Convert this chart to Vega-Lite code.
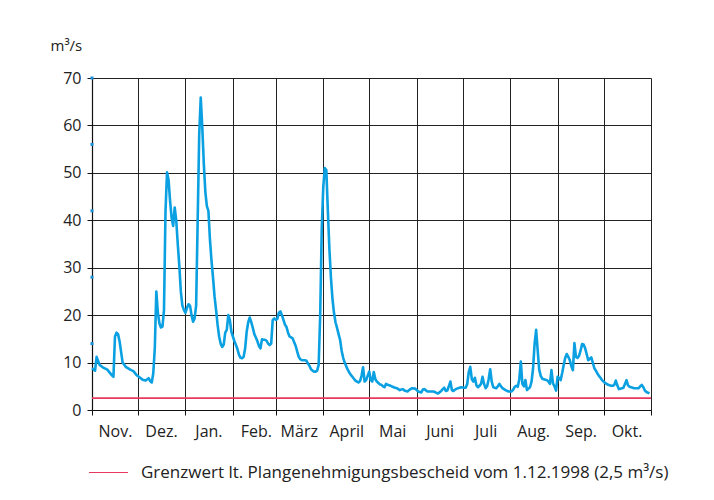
{
  "$schema": "https://vega.github.io/schema/vega-lite/v6.json",
  "autosize": {"type": "none"},
  "padding": {"left": 92, "top": 78, "right": 63, "bottom": 90},
  "width": 559,
  "height": 332,
  "background": "white",
  "config": {
    "font": "Open Sans",
    "view": {"stroke": null},
    "axis": {"labelFont": "Open Sans", "labelFontSize": 16, "labelColor": "#222", "titleFont": "Open Sans", "titleColor": "#222"}
  },
  "datasets": {
    "flow": [
      {"date": "1998-11-01", "q": 8.8}, {"date": "1998-11-03", "q": 8.3}, {"date": "1998-11-04", "q": 11.2}, {"date": "1998-11-06", "q": 9.5},
      {"date": "1998-11-08", "q": 9.0}, {"date": "1998-11-11", "q": 8.5}, {"date": "1998-11-14", "q": 7.3}, {"date": "1998-11-15", "q": 7.0},
      {"date": "1998-11-16", "q": 15.5}, {"date": "1998-11-17", "q": 16.3}, {"date": "1998-11-18", "q": 16.0}, {"date": "1998-11-19", "q": 14.5},
      {"date": "1998-11-21", "q": 10.0}, {"date": "1998-11-23", "q": 9.1}, {"date": "1998-11-26", "q": 8.5}, {"date": "1998-11-28", "q": 8.2},
      {"date": "1998-11-30", "q": 7.4}, {"date": "1998-12-02", "q": 6.9}, {"date": "1998-12-04", "q": 6.4}, {"date": "1998-12-06", "q": 6.2},
      {"date": "1998-12-08", "q": 6.7}, {"date": "1998-12-09", "q": 6.1}, {"date": "1998-12-10", "q": 5.8}, {"date": "1998-12-11", "q": 7.7},
      {"date": "1998-12-12", "q": 13.0}, {"date": "1998-12-13", "q": 25.0}, {"date": "1998-12-14", "q": 20.5}, {"date": "1998-12-15", "q": 18.3},
      {"date": "1998-12-16", "q": 17.4}, {"date": "1998-12-17", "q": 17.6}, {"date": "1998-12-18", "q": 21.0}, {"date": "1998-12-19", "q": 42.0},
      {"date": "1998-12-20", "q": 50.1}, {"date": "1998-12-21", "q": 48.5}, {"date": "1998-12-22", "q": 44.0}, {"date": "1998-12-23", "q": 40.5},
      {"date": "1998-12-24", "q": 38.8}, {"date": "1998-12-25", "q": 42.7}, {"date": "1998-12-26", "q": 40.0}, {"date": "1998-12-27", "q": 35.0},
      {"date": "1998-12-28", "q": 30.5}, {"date": "1998-12-29", "q": 25.0}, {"date": "1998-12-30", "q": 22.0}, {"date": "1998-12-31", "q": 21.1},
      {"date": "1999-01-01", "q": 20.5}, {"date": "1999-01-02", "q": 21.5}, {"date": "1999-01-03", "q": 22.3}, {"date": "1999-01-04", "q": 22.0},
      {"date": "1999-01-05", "q": 20.0}, {"date": "1999-01-06", "q": 18.6}, {"date": "1999-01-07", "q": 19.3}, {"date": "1999-01-08", "q": 22.0},
      {"date": "1999-01-09", "q": 40.0}, {"date": "1999-01-10", "q": 58.0}, {"date": "1999-01-11", "q": 65.9}, {"date": "1999-01-12", "q": 59.7},
      {"date": "1999-01-13", "q": 52.0}, {"date": "1999-01-14", "q": 46.0}, {"date": "1999-01-15", "q": 43.0}, {"date": "1999-01-16", "q": 42.0},
      {"date": "1999-01-17", "q": 36.0}, {"date": "1999-01-18", "q": 31.6}, {"date": "1999-01-19", "q": 28.0}, {"date": "1999-01-20", "q": 24.0},
      {"date": "1999-01-21", "q": 21.1}, {"date": "1999-01-22", "q": 18.0}, {"date": "1999-01-23", "q": 15.5}, {"date": "1999-01-24", "q": 14.0},
      {"date": "1999-01-25", "q": 13.3}, {"date": "1999-01-26", "q": 13.8}, {"date": "1999-01-27", "q": 16.3}, {"date": "1999-01-28", "q": 16.9},
      {"date": "1999-01-29", "q": 20.0}, {"date": "1999-01-30", "q": 19.0}, {"date": "1999-01-31", "q": 16.5}, {"date": "1999-02-01", "q": 15.5},
      {"date": "1999-02-02", "q": 14.5}, {"date": "1999-02-03", "q": 13.7}, {"date": "1999-02-04", "q": 12.8}, {"date": "1999-02-05", "q": 11.6},
      {"date": "1999-02-06", "q": 11.0}, {"date": "1999-02-07", "q": 10.9}, {"date": "1999-02-08", "q": 11.2}, {"date": "1999-02-09", "q": 13.0},
      {"date": "1999-02-10", "q": 16.5}, {"date": "1999-02-11", "q": 18.5}, {"date": "1999-02-12", "q": 19.5}, {"date": "1999-02-13", "q": 18.5},
      {"date": "1999-02-14", "q": 17.3}, {"date": "1999-02-15", "q": 16.0}, {"date": "1999-02-16", "q": 15.3}, {"date": "1999-02-17", "q": 14.5},
      {"date": "1999-02-18", "q": 13.5}, {"date": "1999-02-19", "q": 13.0}, {"date": "1999-02-20", "q": 14.9}, {"date": "1999-02-21", "q": 14.8},
      {"date": "1999-02-22", "q": 14.8}, {"date": "1999-02-23", "q": 14.6}, {"date": "1999-02-24", "q": 14.0}, {"date": "1999-02-25", "q": 13.7},
      {"date": "1999-02-26", "q": 14.0}, {"date": "1999-02-27", "q": 19.0}, {"date": "1999-02-28", "q": 19.3}, {"date": "1999-03-01", "q": 19.0},
      {"date": "1999-03-02", "q": 19.2}, {"date": "1999-03-03", "q": 20.5}, {"date": "1999-03-04", "q": 20.8}, {"date": "1999-03-05", "q": 20.0},
      {"date": "1999-03-06", "q": 19.0}, {"date": "1999-03-07", "q": 18.0}, {"date": "1999-03-08", "q": 17.5}, {"date": "1999-03-09", "q": 16.3},
      {"date": "1999-03-10", "q": 15.5}, {"date": "1999-03-11", "q": 15.3}, {"date": "1999-03-12", "q": 15.1}, {"date": "1999-03-13", "q": 14.3},
      {"date": "1999-03-14", "q": 13.5}, {"date": "1999-03-15", "q": 12.3}, {"date": "1999-03-16", "q": 11.2}, {"date": "1999-03-17", "q": 10.7},
      {"date": "1999-03-18", "q": 10.5}, {"date": "1999-03-19", "q": 10.5}, {"date": "1999-03-20", "q": 10.5}, {"date": "1999-03-21", "q": 10.4},
      {"date": "1999-03-22", "q": 9.8}, {"date": "1999-03-23", "q": 9.3}, {"date": "1999-03-24", "q": 8.6}, {"date": "1999-03-25", "q": 8.3},
      {"date": "1999-03-26", "q": 8.1}, {"date": "1999-03-27", "q": 8.1}, {"date": "1999-03-28", "q": 8.3}, {"date": "1999-03-29", "q": 9.5},
      {"date": "1999-03-30", "q": 20.0}, {"date": "1999-03-31", "q": 38.0}, {"date": "1999-04-01", "q": 47.0}, {"date": "1999-04-02", "q": 51.0},
      {"date": "1999-04-03", "q": 50.6}, {"date": "1999-04-04", "q": 42.0}, {"date": "1999-04-05", "q": 34.0}, {"date": "1999-04-06", "q": 28.0},
      {"date": "1999-04-07", "q": 23.5}, {"date": "1999-04-08", "q": 20.5}, {"date": "1999-04-09", "q": 18.5}, {"date": "1999-04-10", "q": 17.3},
      {"date": "1999-04-11", "q": 16.0}, {"date": "1999-04-12", "q": 14.8}, {"date": "1999-04-13", "q": 12.5}, {"date": "1999-04-14", "q": 11.0},
      {"date": "1999-04-15", "q": 10.0}, {"date": "1999-04-16", "q": 9.2}, {"date": "1999-04-17", "q": 8.5}, {"date": "1999-04-18", "q": 7.9},
      {"date": "1999-04-19", "q": 7.4}, {"date": "1999-04-20", "q": 7.0}, {"date": "1999-04-21", "q": 6.6}, {"date": "1999-04-22", "q": 6.2},
      {"date": "1999-04-23", "q": 6.0}, {"date": "1999-04-24", "q": 5.8}, {"date": "1999-04-25", "q": 6.1}, {"date": "1999-04-26", "q": 7.2},
      {"date": "1999-04-27", "q": 9.0}, {"date": "1999-04-28", "q": 6.0}, {"date": "1999-04-29", "q": 6.3}, {"date": "1999-04-30", "q": 7.2},
      {"date": "1999-05-01", "q": 8.1}, {"date": "1999-05-02", "q": 6.3}, {"date": "1999-05-03", "q": 6.0}, {"date": "1999-05-04", "q": 8.0},
      {"date": "1999-05-05", "q": 6.5}, {"date": "1999-05-06", "q": 6.0}, {"date": "1999-05-07", "q": 5.7}, {"date": "1999-05-08", "q": 5.4},
      {"date": "1999-05-09", "q": 5.3}, {"date": "1999-05-10", "q": 5.0}, {"date": "1999-05-11", "q": 4.8}, {"date": "1999-05-12", "q": 5.5},
      {"date": "1999-05-13", "q": 5.3}, {"date": "1999-05-15", "q": 5.1}, {"date": "1999-05-17", "q": 4.8}, {"date": "1999-05-19", "q": 4.6},
      {"date": "1999-05-21", "q": 4.2}, {"date": "1999-05-23", "q": 4.4}, {"date": "1999-05-24", "q": 4.1}, {"date": "1999-05-26", "q": 3.9},
      {"date": "1999-05-27", "q": 4.2}, {"date": "1999-05-29", "q": 4.6}, {"date": "1999-05-31", "q": 4.5}, {"date": "1999-06-02", "q": 3.9},
      {"date": "1999-06-04", "q": 3.7}, {"date": "1999-06-05", "q": 4.3}, {"date": "1999-06-06", "q": 4.4}, {"date": "1999-06-08", "q": 3.9},
      {"date": "1999-06-10", "q": 3.9}, {"date": "1999-06-12", "q": 3.9}, {"date": "1999-06-14", "q": 3.6}, {"date": "1999-06-15", "q": 3.5},
      {"date": "1999-06-17", "q": 4.0}, {"date": "1999-06-18", "q": 4.4}, {"date": "1999-06-19", "q": 4.7}, {"date": "1999-06-20", "q": 4.0},
      {"date": "1999-06-21", "q": 4.1}, {"date": "1999-06-22", "q": 5.0}, {"date": "1999-06-23", "q": 6.0}, {"date": "1999-06-24", "q": 4.2},
      {"date": "1999-06-25", "q": 4.0}, {"date": "1999-06-26", "q": 4.3}, {"date": "1999-06-28", "q": 4.6}, {"date": "1999-06-30", "q": 4.8},
      {"date": "1999-07-02", "q": 4.7}, {"date": "1999-07-03", "q": 4.7}, {"date": "1999-07-04", "q": 5.5}, {"date": "1999-07-05", "q": 8.0},
      {"date": "1999-07-06", "q": 9.1}, {"date": "1999-07-07", "q": 6.5}, {"date": "1999-07-08", "q": 6.0}, {"date": "1999-07-09", "q": 6.8},
      {"date": "1999-07-10", "q": 5.2}, {"date": "1999-07-11", "q": 4.8}, {"date": "1999-07-12", "q": 5.1}, {"date": "1999-07-13", "q": 5.5},
      {"date": "1999-07-14", "q": 7.0}, {"date": "1999-07-15", "q": 5.5}, {"date": "1999-07-16", "q": 4.6}, {"date": "1999-07-17", "q": 5.0},
      {"date": "1999-07-18", "q": 6.5}, {"date": "1999-07-19", "q": 8.6}, {"date": "1999-07-20", "q": 6.0}, {"date": "1999-07-21", "q": 4.8},
      {"date": "1999-07-22", "q": 4.7}, {"date": "1999-07-23", "q": 4.6}, {"date": "1999-07-24", "q": 5.0}, {"date": "1999-07-25", "q": 5.5},
      {"date": "1999-07-26", "q": 5.0}, {"date": "1999-07-27", "q": 4.6}, {"date": "1999-07-29", "q": 4.2}, {"date": "1999-07-31", "q": 3.9},
      {"date": "1999-08-02", "q": 3.9}, {"date": "1999-08-03", "q": 4.3}, {"date": "1999-08-04", "q": 4.9}, {"date": "1999-08-05", "q": 5.1},
      {"date": "1999-08-06", "q": 4.9}, {"date": "1999-08-07", "q": 6.5}, {"date": "1999-08-08", "q": 10.2}, {"date": "1999-08-09", "q": 5.5},
      {"date": "1999-08-10", "q": 5.0}, {"date": "1999-08-11", "q": 6.3}, {"date": "1999-08-12", "q": 4.2}, {"date": "1999-08-13", "q": 4.5},
      {"date": "1999-08-14", "q": 4.8}, {"date": "1999-08-15", "q": 6.0}, {"date": "1999-08-16", "q": 8.8}, {"date": "1999-08-17", "q": 14.0},
      {"date": "1999-08-18", "q": 16.9}, {"date": "1999-08-19", "q": 12.6}, {"date": "1999-08-20", "q": 8.5}, {"date": "1999-08-21", "q": 7.2},
      {"date": "1999-08-22", "q": 6.6}, {"date": "1999-08-23", "q": 6.5}, {"date": "1999-08-24", "q": 6.4}, {"date": "1999-08-25", "q": 6.3},
      {"date": "1999-08-26", "q": 6.0}, {"date": "1999-08-27", "q": 5.5}, {"date": "1999-08-28", "q": 8.4}, {"date": "1999-08-29", "q": 5.6},
      {"date": "1999-08-30", "q": 5.0}, {"date": "1999-08-31", "q": 4.1}, {"date": "1999-09-01", "q": 7.0}, {"date": "1999-09-02", "q": 6.8},
      {"date": "1999-09-03", "q": 6.3}, {"date": "1999-09-04", "q": 7.8}, {"date": "1999-09-05", "q": 9.5}, {"date": "1999-09-06", "q": 11.0},
      {"date": "1999-09-07", "q": 11.8}, {"date": "1999-09-08", "q": 11.2}, {"date": "1999-09-09", "q": 10.5}, {"date": "1999-09-10", "q": 9.2},
      {"date": "1999-09-11", "q": 8.4}, {"date": "1999-09-12", "q": 14.1}, {"date": "1999-09-13", "q": 11.2}, {"date": "1999-09-14", "q": 11.0},
      {"date": "1999-09-15", "q": 11.4}, {"date": "1999-09-16", "q": 12.5}, {"date": "1999-09-17", "q": 13.9}, {"date": "1999-09-18", "q": 13.8},
      {"date": "1999-09-19", "q": 13.0}, {"date": "1999-09-20", "q": 11.8}, {"date": "1999-09-21", "q": 10.5}, {"date": "1999-09-22", "q": 10.8},
      {"date": "1999-09-23", "q": 11.1}, {"date": "1999-09-24", "q": 10.0}, {"date": "1999-09-25", "q": 8.8}, {"date": "1999-09-26", "q": 8.3},
      {"date": "1999-09-27", "q": 7.7}, {"date": "1999-09-28", "q": 7.2}, {"date": "1999-09-29", "q": 6.8}, {"date": "1999-09-30", "q": 6.3},
      {"date": "1999-10-01", "q": 6.0}, {"date": "1999-10-02", "q": 5.7}, {"date": "1999-10-03", "q": 5.5}, {"date": "1999-10-04", "q": 5.3},
      {"date": "1999-10-05", "q": 5.2}, {"date": "1999-10-06", "q": 5.1}, {"date": "1999-10-07", "q": 5.1}, {"date": "1999-10-08", "q": 5.3},
      {"date": "1999-10-09", "q": 6.2}, {"date": "1999-10-10", "q": 5.2}, {"date": "1999-10-11", "q": 4.4}, {"date": "1999-10-12", "q": 4.5},
      {"date": "1999-10-13", "q": 4.6}, {"date": "1999-10-14", "q": 4.7}, {"date": "1999-10-15", "q": 5.5}, {"date": "1999-10-16", "q": 6.3},
      {"date": "1999-10-17", "q": 5.2}, {"date": "1999-10-18", "q": 4.9}, {"date": "1999-10-19", "q": 4.8}, {"date": "1999-10-20", "q": 4.7},
      {"date": "1999-10-21", "q": 4.6}, {"date": "1999-10-23", "q": 4.6}, {"date": "1999-10-24", "q": 4.6}, {"date": "1999-10-25", "q": 5.0},
      {"date": "1999-10-26", "q": 5.3}, {"date": "1999-10-27", "q": 4.8}, {"date": "1999-10-28", "q": 4.1}, {"date": "1999-10-29", "q": 3.8},
      {"date": "1999-10-31", "q": 3.5}
    ],
    "dots": [
      {"date": "1998-11-01", "q": 14}, {"date": "1998-11-01", "q": 28}, {"date": "1998-11-01", "q": 42},
      {"date": "1998-11-01", "q": 56}, {"date": "1998-11-01", "q": 70}
    ],
    "limit": [
      {"name": "Grenzwert lt. Plangenehmigungsbescheid vom 1.12.1998 (2,5 m³/s)", "q": 2.5}
    ]
  },
  "layer": [
    {
      "data": {"name": "flow"},
      "mark": {"type": "line", "color": "#0aa0e1", "strokeWidth": 2.6, "strokeJoin": "round"},
      "encoding": {
        "x": {
          "field": "date", "type": "temporal",
          "scale": {"type": "utc", "domain": ["1998-11-01", "1999-11-01"]},
          "axis": {
            "title": null,
            "values": ["1998-11-01", "1998-12-01", "1999-01-01", "1999-02-01", "1999-03-01", "1999-04-01", "1999-05-01", "1999-06-01", "1999-07-01", "1999-08-01", "1999-09-01", "1999-10-01", "1999-11-01"],
            "labelExpr": "utcyear(datum.value) == 1999 && utcmonth(datum.value) == 10 ? '' : ['Jan.','Feb.','März','April','Mai','Juni','Juli','Aug.','Sep.','Okt.','Nov.','Dez.'][utcmonth(datum.value)]",
            "labelOffset": 23, "labelAlign": "center", "labelPadding": 8,
            "grid": true, "gridColor": "#222", "gridOpacity": 1, "gridWidth": 1,
            "domainColor": "#111", "domainWidth": 1.2,
            "tickColor": "#111", "tickSize": 5, "tickWidth": 1,
            "labelFlush": false, "labelOverlap": false, "labelBound": false
          }
        },
        "y": {
          "field": "q", "type": "quantitative",
          "scale": {"domain": [0, 70], "nice": false},
          "axis": {
            "title": "m³/s", "titleAngle": 0, "titleAlign": "left", "titleBaseline": "middle",
            "titleX": -42, "titleY": -33, "titleFontSize": 15, "titleFontWeight": "normal",
            "values": [0, 10, 20, 30, 40, 50, 60, 70],
            "grid": true, "gridColor": "#222", "gridOpacity": 1, "gridWidth": 1,
            "domainColor": "#111", "domainWidth": 1.2,
            "tickColor": "#111", "tickSize": 5, "labelPadding": 6
          }
        }
      }
    },
    {
      "data": {"name": "dots"},
      "mark": {"type": "square", "color": "#1a8fd6", "size": 9, "opacity": 1},
      "encoding": {
        "x": {"field": "date", "type": "temporal"},
        "y": {"field": "q", "type": "quantitative"}
      }
    },
    {
      "data": {"name": "limit"},
      "mark": {"type": "rule", "strokeWidth": 1.6},
      "encoding": {
        "y": {"field": "q", "type": "quantitative"},
        "color": {
          "field": "name", "type": "nominal",
          "scale": {"range": ["#e8385e"]},
          "legend": {
            "title": null, "orient": "none", "legendX": -4, "legendY": 374,
            "symbolType": "stroke", "symbolSize": 1521, "symbolStrokeWidth": 1.2, "symbolStrokeColor": "#e8385e",
            "labelFont": "Open Sans", "labelFontSize": 17, "labelColor": "#222", "labelOffset": 12, "labelLimit": 700
          }
        }
      }
    }
  ]
}
